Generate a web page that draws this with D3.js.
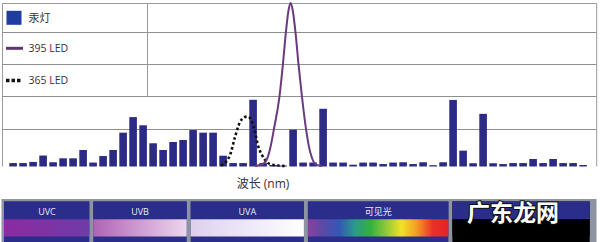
<!DOCTYPE html>
<html>
<head>
<meta charset="utf-8">
<script src="https://cdn.jsdelivr.net/npm/d3@7"></script>
<style>
  html, body { margin: 0; padding: 0; background: #fff; }
  svg { display: block; font-family: "Open Sans", "Noto Sans CJK SC", sans-serif; }
</style>
</head>
<body>
<div id="chart"></div>
<script>
// mercury lamp bars, one per slot, left to right
const lampValues = [
    2.1, 2.1, 2.8, 6.7, 2.6, 5.0, 5.0, 10.1, 2.4, 6.4,
    10.1, 20.7, 30.2, 25.2, 14.2, 10.1, 15.0, 16.2, 22.3, 20.7,
    20.7, 6.6, 2.1, 2.1, 40.8, 2.1, 0.9, 0.6, 22.5, 2.4,
    2.4, 35.3, 2.4, 2.4, 1.1, 2.4, 2.4, 1.5, 2.4, 2.6,
    1.5, 2.6, 0.8, 2.6, 40.7, 9.7, 2.0, 32.2, 2.0, 1.5,
    2.1, 2.1, 4.6, 2.1, 4.6, 2.1, 2.1, 0.9
];

// LED curves: [slot position, intensity]
const led395 = [
    [24.19, 0.3], [24.89, 1.2], [25.39, 4.6], [25.79, 13.3], [26.09, 23.1],
    [26.64, 42.9], [26.99, 63.1], [27.29, 82.8], [27.54, 95.4], [27.76, 100],
    [27.99, 94.5], [28.24, 82.0], [28.54, 62.5], [28.89, 42.5], [29.29, 23.0],
    [29.59, 12.0], [29.89, 5.2], [30.29, 1.2], [30.89, 0.3]
];
const led365 = [
    [20.79, 0.6], [21.29, 2.8], [21.69, 7.0], [22.19, 18.0], [22.69, 27.2],
    [23.09, 30.0], [23.39, 30.5], [23.69, 29.7], [24.09, 23.5], [24.52, 12.1],
    [24.89, 7.0], [25.19, 4.0], [25.69, 1.5], [26.49, 0.6], [27.39, 0.3]
];

const gridValues = [23, 43, 62.5, 82];
const legendLabels = ["汞灯", "395 LED", "365 LED"];
const xLabel = "波长 (nm)";

// last band's own header is hidden under the watermark
const regionNames = ["UVC", "UVB", "UVA", "可见光", ""];
const regionEdges = [-1.04, 7.82, 17.56, 29.28, 43.73, 57.86];
const regionStops = [
    ["#8d2aa0", "#6e3ca8"],
    ["#b163b6", "#ecd6ee"],
    ["#ddd0ee", "#ffffff"],
    ["#8b3f9e", "#5a4aa8", "#3457b4", "#2a9a8a", "#34b040", "#8ec83a", "#f2e226", "#f39a22", "#e8302a", "#e42228"],
    ["#000000", "#000000"]
];

const width = 600, height = 242;
const plotTop = 3, plotBottom = 166.5, plotLeft = 2.5, plotRight = 596.7;

const svg = d3.select("#chart")
    .append("svg")
    .attr("width", width)
    .attr("height", height);

const xBand = d3.scaleBand()
    .domain(d3.range(lampValues.length))
    .range([8.1, 588.1])
    .paddingInner(0.24)
    .paddingOuter(0.12);

const xLin = d3.scaleLinear()
    .domain([0, lampValues.length - 1])
    .range([xBand(0) + xBand.bandwidth() / 2, xBand(lampValues.length - 1) + xBand.bandwidth() / 2]);

const y = d3.scaleLinear()
    .domain([0, 100])
    .range([plotBottom, plotTop]);

// grid
svg.append("g")
    .selectAll("line")
    .data(gridValues)
    .enter()
    .append("line")
        .attr("x1", plotLeft)
        .attr("x2", plotRight)
        .attr("y1", d => Math.round(y(d)) + 0.5)
        .attr("y2", d => Math.round(y(d)) + 0.5)
        .style("stroke", "#8f8f8f")
        .style("stroke-width", 1);

// frame
svg.append("path")
    .attr("d", `M${plotLeft},${plotBottom}V${plotTop + 0.5}H${plotRight}V${plotBottom}`)
    .style("fill", "none")
    .style("stroke", "#9a9a9a")
    .style("stroke-width", 1);

svg.append("line")
    .attr("x1", 147.5).attr("x2", 147.5)
    .attr("y1", plotTop).attr("y2", Math.round(y(gridValues[1])) + 0.5)
    .style("stroke", "#9a9a9a");

// bars
svg.append("g")
    .selectAll("rect")
    .data(lampValues)
    .enter()
    .append("rect")
        .attr("x", (d, i) => xBand(i))
        .attr("y", d => y(d))
        .attr("width", xBand.bandwidth())
        .attr("height", d => y(0) - y(d))
        .style("fill", "#2b2b86");

const line = d3.line()
    .x(d => xLin(d[0]))
    .y(d => y(d[1]))
    .curve(d3.curveMonotoneX);

svg.append("path")
    .datum(led365)
    .attr("d", line)
    .style("fill", "none")
    .style("stroke", "#111")
    .style("stroke-width", 2.6)
    .style("stroke-dasharray", "2.6,2.4");

svg.append("path")
    .datum(led395)
    .attr("d", line)
    .style("fill", "none")
    .style("stroke", "#6a3a7e")
    .style("stroke-width", 2);

// legend
const rowMid = [17.8, 48.3, 80.5];
const legend = svg.append("g");
legend.append("rect")
    .attr("x", 6.5).attr("y", rowMid[0] - 7)
    .attr("width", 15).attr("height", 14)
    .style("fill", "#1f3d9e");
legend.append("line")
    .attr("x1", 6).attr("x2", 23)
    .attr("y1", rowMid[1]).attr("y2", rowMid[1])
    .style("stroke", "#5e3472")
    .style("stroke-width", 3);
legend.append("line")
    .attr("x1", 6).attr("x2", 22)
    .attr("y1", rowMid[2]).attr("y2", rowMid[2])
    .style("stroke", "#111")
    .style("stroke-width", 3.5)
    .style("stroke-dasharray", "3.5,2");
legend.selectAll("text")
    .data(legendLabels)
    .enter()
    .append("text")
        .attr("x", 28.5)
        .attr("y", (d, i) => rowMid[i])
        .attr("dy", "0.35em")
        .style("font-size", (d, i) => i === 0 ? "11px" : "10.5px")
        .style("fill", "#333")
        .text(d => d);

svg.append("text")
    .attr("x", 263)
    .attr("y", 188)
    .attr("text-anchor", "middle")
    .style("font-size", "12px")
    .style("fill", "#333")
    .text(xLabel);

// spectrum bands
const defs = svg.append("defs");
regionStops.forEach((stops, i) => {
    const g = defs.append("linearGradient")
        .attr("id", "grad" + i)
        .attr("x1", "0%").attr("x2", "100%");
    stops.forEach((c, j) => {
        g.append("stop")
            .attr("offset", (j / (stops.length - 1) * 100) + "%")
            .attr("stop-color", c);
    });
});

const bandTop = 199, headTop = 201.5, stripTop = 219.3, stripH = 17.2;

svg.append("rect")
    .attr("x", 1.5)
    .attr("y", bandTop)
    .attr("width", 595)
    .attr("height", height - bandTop + 5)
    .style("fill", "#8d93a0");

const panels = svg.append("g")
    .selectAll("g")
    .data(regionNames)
    .enter()
    .append("g");

const panelX = (d, i) => xLin(regionEdges[i]) + (i === 0 ? 1.3 : 2);
const panelW = (d, i) => xLin(regionEdges[i + 1]) - xLin(regionEdges[i]) - (i === 0 ? 3.3 : 4);

panels.append("rect")
    .attr("x", panelX)
    .attr("y", headTop)
    .attr("width", panelW)
    .attr("height", height - headTop + 5)
    .style("fill", (d, i) => i === 4 ? "#000" : "#2a2d8a");

panels.append("rect")
    .attr("x", panelX)
    .attr("y", headTop)
    .attr("width", panelW)
    .attr("height", stripTop - headTop)
    .style("fill", "#2a2d8a");

panels.append("rect")
    .attr("x", panelX)
    .attr("y", stripTop)
    .attr("width", panelW)
    .attr("height", stripH)
    .style("fill", (d, i) => `url(#grad${i})`);

panels.filter(d => d !== "")
    .append("text")
    .attr("x", (d, i) => (xLin(regionEdges[i]) + xLin(regionEdges[i + 1])) / 2)
    .attr("y", 214.5)
    .attr("text-anchor", "middle")
    .style("font-size", "9px")
    .style("fill", "#e8ecf6")
    .text(d => d);

svg.append("text")
    .attr("x", 513)
    .attr("y", 221)
    .attr("text-anchor", "middle")
    .style("font-family", "'Noto Sans CJK SC'")
    .style("font-weight", "bold")
    .style("font-size", "23px")
    .style("fill", "#fff")
    .style("stroke", "#111")
    .style("stroke-width", 2)
    .style("paint-order", "stroke")
    .text("广东龙网");
</script>
</body>
</html>
